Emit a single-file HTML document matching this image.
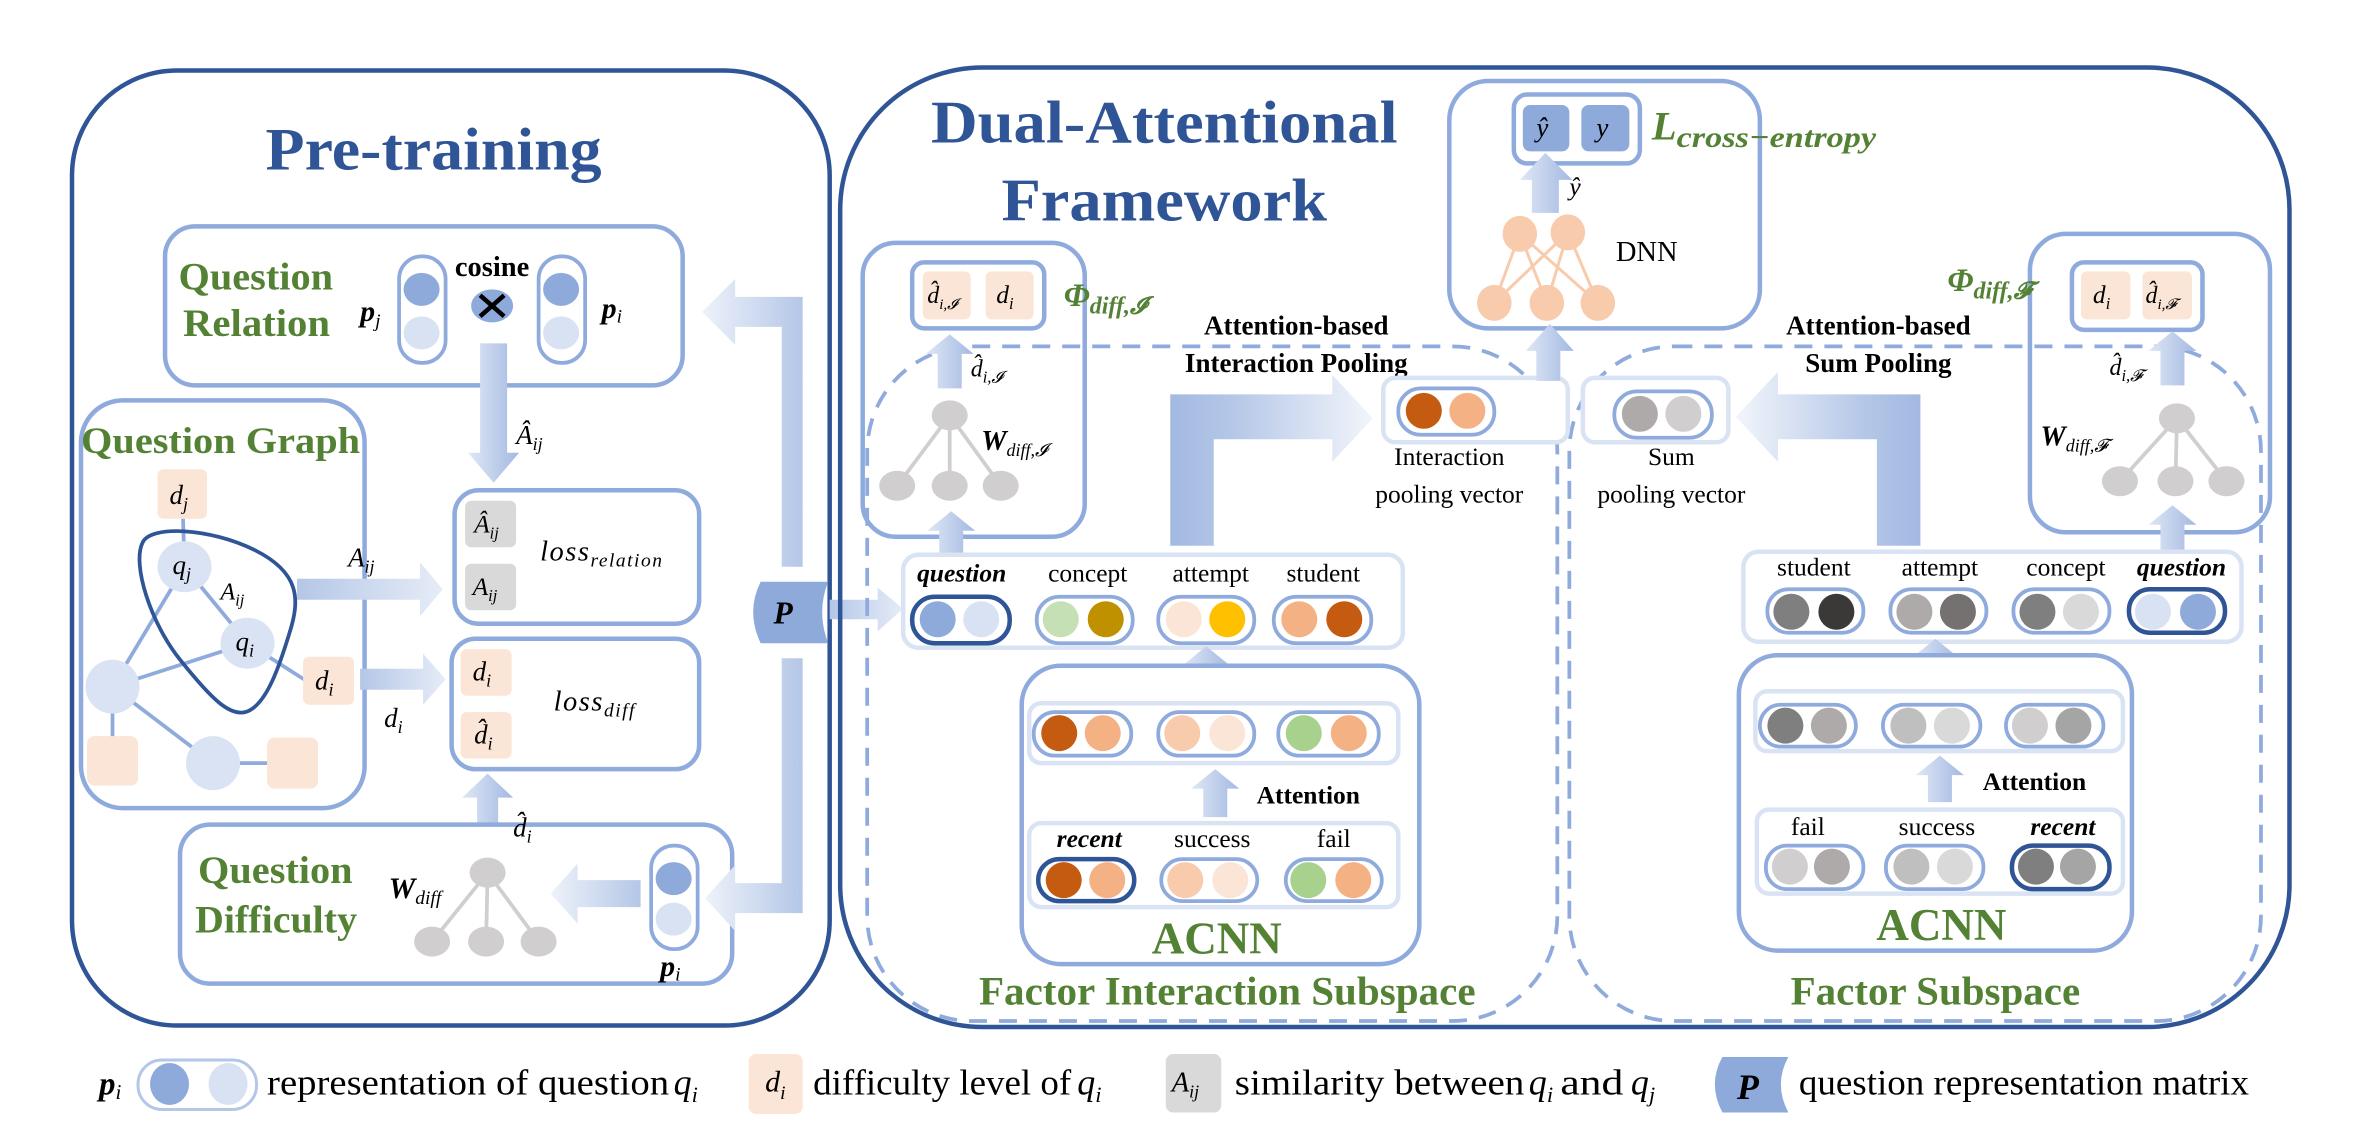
<!DOCTYPE html>
<html><head><meta charset="utf-8"><style>
html,body{margin:0;padding:0;background:#fff;}
svg{display:block;}
text{font-family:"Liberation Serif",serif;}
.t{font-weight:bold;fill:#2f5597;}
.g{font-weight:bold;fill:#548235;}
.b{font-weight:bold;fill:#000;}
.m{font-style:italic;fill:#000;}
.n{fill:#000;}
.pill{fill:#fff;stroke:#8faadc;stroke-width:2.5;}
.pd{fill:#fff;stroke:#2f5597;stroke-width:3;}
.row{fill:#fff;stroke:#dae3f3;stroke-width:3;}
.bx{fill:#fff;stroke:#8faadc;stroke-width:3;}
.ds{fill:none;stroke:#8faadc;stroke-width:2.5;stroke-dasharray:12 8;}
.ar{fill:url(#gv);}
.ah{fill:url(#gh);}
</style></head><body>
<svg width="2354" height="1132" viewBox="0 0 1569 755" preserveAspectRatio="none" xmlns="http://www.w3.org/2000/svg">
<defs>
<linearGradient id="gv" x1="0" y1="0" x2="1" y2="0"><stop offset="0" stop-color="#dfe7f5"/><stop offset="1" stop-color="#a3b9e2"/></linearGradient>
<linearGradient id="gh" x1="0" y1="0" x2="1" y2="0"><stop offset="0" stop-color="#b4c7e7"/><stop offset="1" stop-color="#e6ecf7"/></linearGradient>
<linearGradient id="gl" x1="0" y1="0" x2="1" y2="0"><stop offset="0" stop-color="#eef2fa"/><stop offset="1" stop-color="#b4c7e7"/></linearGradient>
<linearGradient id="gL1" x1="0" y1="0" x2="1" y2="0"><stop offset="0" stop-color="#a3b9e2"/><stop offset="0.3" stop-color="#b4c7e7"/><stop offset="1" stop-color="#f2f5fb"/></linearGradient>
<linearGradient id="gL2" x1="0" y1="0" x2="1" y2="0"><stop offset="0" stop-color="#f2f5fb"/><stop offset="0.7" stop-color="#b4c7e7"/><stop offset="1" stop-color="#a3b9e2"/></linearGradient>
</defs>

<!-- ============ PRE-TRAINING ============ -->
<rect x="48" y="47" width="505" height="637" rx="70" fill="#fff" stroke="#2f5597" stroke-width="3"/>
<text class="t" x="289" y="113" font-size="40" text-anchor="middle" textLength="224" lengthAdjust="spacingAndGlyphs">Pre-training</text>

<rect class="bx" x="110" y="151" width="345" height="106" rx="20"/>
<text class="g" x="119" y="193" font-size="26" textLength="103" lengthAdjust="spacingAndGlyphs">Question</text>
<text class="g" x="122" y="224" font-size="26" textLength="98" lengthAdjust="spacingAndGlyphs">Relation</text>
<text class="m" x="240" y="214" font-size="20" font-weight="bold">p<tspan font-size="13" dy="4" font-weight="normal">j</tspan></text>
<rect class="pill" x="266" y="171" width="31" height="71" rx="15"/>
<ellipse cx="281" cy="193" rx="12" ry="11" fill="#8eaadb"/>
<ellipse cx="281" cy="222" rx="12" ry="11" fill="#d9e2f3"/>
<text class="b" x="328" y="184" font-size="19" text-anchor="middle">cosine</text>
<ellipse cx="328" cy="204" rx="14" ry="11" fill="#8eaadb"/>
<path d="M320,197 L336,211 M336,197 L320,211" stroke="#000" stroke-width="3"/>
<rect class="pill" x="359" y="171" width="31" height="71" rx="15"/>
<ellipse cx="374" cy="193" rx="12" ry="11" fill="#8eaadb"/>
<ellipse cx="374" cy="222" rx="12" ry="11" fill="#d9e2f3"/>
<text class="m" x="401" y="212" font-size="20" font-weight="bold">p<tspan font-size="13" dy="3" font-weight="normal">i</tspan></text>

<polygon class="ar" points="320,229 338,229 338,302 346,302 329,322 312,302 320,302"/>
<text class="m" x="344" y="296" font-size="18">Â<tspan font-size="12" dy="4">ij</tspan></text>

<rect class="bx" x="54" y="267" width="189" height="272" rx="28"/>
<text class="g" x="54" y="302" font-size="25" textLength="186" lengthAdjust="spacingAndGlyphs">Question Graph</text>
<g stroke="#8faadc" stroke-width="2.5">
<line x1="122" y1="346" x2="123" y2="378"/>
<line x1="123" y1="378" x2="165" y2="429"/>
<line x1="123" y1="378" x2="75" y2="458"/>
<line x1="75" y1="458" x2="165" y2="429"/>
<line x1="75" y1="458" x2="142" y2="509"/>
<line x1="75" y1="458" x2="75" y2="500"/>
<line x1="142" y1="509" x2="185" y2="509"/>
<line x1="165" y1="429" x2="204" y2="454"/>
</g>
<rect x="105" y="313" width="33" height="33" rx="4" fill="#fbe5d6"/>
<text class="m" x="113" y="336" font-size="18">d<tspan font-size="12" dy="4">j</tspan></text>
<ellipse cx="123" cy="378" rx="18" ry="17" fill="#dae3f3"/>
<text class="m" x="115" y="383" font-size="18">q<tspan font-size="12" dy="4">j</tspan></text>
<ellipse cx="165" cy="429" rx="18" ry="17" fill="#dae3f3"/>
<text class="m" x="157" y="434" font-size="18">q<tspan font-size="12" dy="4">i</tspan></text>
<text class="m" x="147" y="400" font-size="16">A<tspan font-size="11" dy="4">ij</tspan></text>
<ellipse cx="75" cy="458" rx="18" ry="18" fill="#dae3f3"/>
<ellipse cx="142" cy="509" rx="18" ry="18" fill="#dae3f3"/>
<rect x="58" y="491" width="34" height="33" rx="5" fill="#fbe5d6"/>
<rect x="178" y="492" width="34" height="34" rx="5" fill="#fbe5d6"/>
<rect x="202" y="438" width="34" height="32" rx="4" fill="#fbe5d6"/>
<text class="m" x="210" y="460" font-size="18">d<tspan font-size="12" dy="4">i</tspan></text>
<path d="M95,362 C100,350 140,352 170,367 C200,382 200,400 193,422 C186,445 178,468 166,474 C154,480 140,465 120,440 C100,415 88,376 95,362 Z" fill="none" stroke="#2f5597" stroke-width="2.5"/>

<polygon class="ah" points="198,386 280,386 280,375 295,393 280,411 280,400 198,400"/>
<text class="m" x="232" y="378" font-size="18">A<tspan font-size="12" dy="4">ij</tspan></text>
<polygon class="ah" points="240,446 282,446 282,436 297,453 282,470 282,460 240,460"/>
<text class="m" x="256" y="485" font-size="18">d<tspan font-size="12" dy="4">i</tspan></text>

<rect class="bx" x="303" y="327" width="163" height="89" rx="16"/>
<rect x="310" y="334" width="34" height="31" rx="4" fill="#d9d9d9"/>
<rect x="310" y="376" width="34" height="31" rx="4" fill="#d9d9d9"/>
<text class="m" x="316" y="355" font-size="17">Â<tspan font-size="11" dy="4">ij</tspan></text>
<text class="m" x="315" y="397" font-size="17">A<tspan font-size="11" dy="4">ij</tspan></text>
<text class="m" x="360" y="374" font-size="19" letter-spacing="1">loss<tspan font-size="13" dy="4">relation</tspan></text>
<rect class="bx" x="301" y="426" width="165" height="87" rx="16"/>
<rect x="307" y="433" width="34" height="31" rx="4" fill="#fbe5d6"/>
<rect x="307" y="475" width="34" height="31" rx="4" fill="#fbe5d6"/>
<text class="m" x="315" y="454" font-size="18">d<tspan font-size="12" dy="4">i</tspan></text>
<text class="m" x="316" y="496" font-size="18">d̂<tspan font-size="12" dy="4">i</tspan></text>
<text class="m" x="369" y="474" font-size="19" letter-spacing="1">loss<tspan font-size="13" dy="4">diff</tspan></text>

<polygon class="ar" points="318,569 332,569 332,532 342,532 325,516 308,532 318,532"/>

<rect class="bx" x="120" y="550" width="368" height="106" rx="20"/>
<text class="m" x="342" y="558" font-size="18">d̂<tspan font-size="12" dy="4">i</tspan></text>
<text class="g" x="132" y="589" font-size="26" textLength="103" lengthAdjust="spacingAndGlyphs">Question</text>
<text class="g" x="130" y="622" font-size="26" textLength="108" lengthAdjust="spacingAndGlyphs">Difficulty</text>
<text class="m" x="259" y="599" font-size="20" font-weight="bold">W<tspan font-size="13" dy="4" font-weight="normal">diff</tspan></text>
<g stroke="#d0cece" stroke-width="2.5"><line x1="325" y1="582" x2="288" y2="628"/><line x1="325" y1="582" x2="324" y2="628"/><line x1="325" y1="582" x2="359" y2="628"/></g>
<g fill="#d0cece"><ellipse cx="325" cy="582" rx="12" ry="10"/><ellipse cx="288" cy="628" rx="12" ry="10"/><ellipse cx="324" cy="628" rx="12" ry="10"/><ellipse cx="359" cy="628" rx="12" ry="10"/></g>
<polygon fill="url(#gl)" points="427,587 385,587 385,576 367,596 385,616 385,605 427,605"/>
<rect class="pill" x="434" y="564" width="31" height="69" rx="15"/>
<ellipse cx="449" cy="586" rx="12" ry="11" fill="#8eaadb"/>
<ellipse cx="449" cy="613" rx="12" ry="11" fill="#d9e2f3"/>
<text class="m" x="440" y="651" font-size="20" font-weight="bold">p<tspan font-size="13" dy="3" font-weight="normal">i</tspan></text>

<polygon fill="url(#gl)" points="535,378 535,198 490,198 490,186 468,208 490,230 490,218 521,218 521,378"/>
<polygon fill="url(#gl)" points="521,439 535,439 535,609 490,609 490,621 470,599 490,577 490,589 521,589"/>
<polygon class="ah" points="553,400 585,400 585,392 602,406 585,421 585,413 553,413"/>
<path d="M507,388 L552,388 Q544,408 552,429 L507,429 Q497,408 507,388 Z" fill="#8eaadb"/>
<text x="522" y="416" font-size="21" font-weight="bold" font-style="italic" text-anchor="middle">P</text>

<!-- ============ DUAL-ATTENTIONAL ============ -->
<rect x="560" y="45" width="966" height="640" rx="95" fill="none" stroke="#2f5597" stroke-width="3"/>
<text class="t" x="776" y="95" font-size="40" text-anchor="middle" textLength="311" lengthAdjust="spacingAndGlyphs">Dual-Attentional</text>
<text class="t" x="776" y="147" font-size="40" text-anchor="middle" textLength="217" lengthAdjust="spacingAndGlyphs">Framework</text>

<rect class="ds" x="578" y="231" width="460" height="450" rx="70"/>
<rect class="ds" x="1046" y="231" width="461" height="450" rx="70"/>

<rect x="575" y="162" width="148" height="196" rx="22" fill="none" stroke="#8faadc" stroke-width="3"/>
<rect class="bx" x="608" y="175" width="88" height="44" rx="8"/>
<rect x="615" y="181" width="32" height="32" rx="4" fill="#fbe5d6"/>
<rect x="657" y="181" width="32" height="32" rx="4" fill="#fbe5d6"/>
<text class="m" x="618" y="202" font-size="16">d̂<tspan font-size="10" dy="4">i,𝓘</tspan></text>
<text class="m" x="664" y="202" font-size="17">d<tspan font-size="11" dy="4">i</tspan></text>
<text x="709" y="204" font-size="22" font-weight="bold" font-style="italic" fill="#548235">Φ<tspan font-size="16" dy="5">diff,𝓘</tspan></text>
<polygon class="ar" points="625,259 641,259 641,236 649,236 633,223 617,236 625,236"/>
<text class="m" x="647" y="251" font-size="16">d̂<tspan font-size="11" dy="4">i,𝓘</tspan></text>
<g stroke="#d0cece" stroke-width="2.5"><line x1="633" y1="277" x2="598" y2="324"/><line x1="633" y1="277" x2="633" y2="324"/><line x1="633" y1="277" x2="667" y2="324"/></g>
<g fill="#d0cece"><ellipse cx="633" cy="277" rx="12" ry="10"/><ellipse cx="598" cy="324" rx="12" ry="10"/><ellipse cx="633" cy="324" rx="12" ry="10"/><ellipse cx="667" cy="324" rx="12" ry="10"/></g>
<text class="m" x="654" y="300" font-size="19" font-weight="bold">W<tspan font-size="12" dy="4" font-weight="normal">diff,𝓘</tspan></text>
<polygon class="ar" points="626,375 642,375 642,354 650,354 634,341 618,354 626,354"/>

<text class="b" x="864" y="223" font-size="18" text-anchor="middle">Attention-based</text>
<text class="b" x="864" y="248" font-size="18" text-anchor="middle">Interaction Pooling</text>
<polygon fill="url(#gL1)" points="780,364 809,364 809,293 888,293 888,308 915,279 888,250 888,263 780,263"/>

<rect class="row" x="922" y="252" width="123" height="43" rx="8"/>
<rect class="row" x="1055" y="252" width="97" height="43" rx="8"/>
<rect class="pill" x="932" y="259" width="64" height="31" rx="15"/>
<ellipse cx="949" cy="274" rx="12" ry="12" fill="#c55a11"/>
<ellipse cx="978" cy="274" rx="12" ry="12" fill="#f4b183"/>
<text class="n" x="966" y="310" font-size="17" text-anchor="middle">Interaction</text>
<text class="n" x="966" y="335" font-size="17" text-anchor="middle">pooling vector</text>
<rect class="pill" x="1076" y="261" width="65" height="31" rx="15"/>
<ellipse cx="1093" cy="276" rx="12" ry="12" fill="#aeaaaa"/>
<ellipse cx="1122" cy="276" rx="12" ry="12" fill="#d0cece"/>
<text class="n" x="1114" y="310" font-size="17" text-anchor="middle">Sum</text>
<text class="n" x="1114" y="335" font-size="17" text-anchor="middle">pooling vector</text>

<!-- DNN -->
<rect x="966" y="54" width="207" height="165" rx="26" fill="#fff" stroke="#8faadc" stroke-width="3"/>
<rect class="bx" x="1009" y="63" width="84" height="46" rx="9"/>
<rect x="1015" y="70" width="31" height="31" rx="5" fill="#8eaadb"/>
<rect x="1054" y="70" width="32" height="31" rx="5" fill="#8eaadb"/>
<text class="m" x="1024" y="91" font-size="18">ŷ</text>
<text class="m" x="1064" y="91" font-size="18">y</text>
<polygon class="ar" points="1021,142 1039,142 1039,120 1048,120 1030,102 1013,120 1021,120"/>
<text class="m" x="1046" y="130" font-size="17">ŷ</text>
<g stroke="#f8cbad" stroke-width="2"><line x1="1013" y1="156" x2="996" y2="202"/><line x1="1013" y1="156" x2="1031" y2="202"/><line x1="1013" y1="156" x2="1065" y2="202"/><line x1="1045" y1="155" x2="996" y2="202"/><line x1="1045" y1="155" x2="1031" y2="202"/><line x1="1045" y1="155" x2="1065" y2="202"/></g>
<g fill="#f8cbad"><ellipse cx="1013" cy="156" rx="11.5" ry="12"/><ellipse cx="1045" cy="155" rx="11.5" ry="12"/><ellipse cx="996" cy="202" rx="11.5" ry="12"/><ellipse cx="1031" cy="202" rx="11.5" ry="12"/><ellipse cx="1065" cy="202" rx="11.5" ry="12"/></g>
<text class="n" x="1077" y="174" font-size="19">DNN</text>
<polygon class="ar" points="1024,254 1040,254 1040,234 1049,234 1033,216 1017,234 1024,234"/>
<text x="1101" y="93" font-size="27" font-weight="bold" font-style="italic" fill="#548235">L<tspan font-size="20" dy="5" textLength="133" lengthAdjust="spacingAndGlyphs">cross−entropy</tspan></text>

<rect class="row" x="602" y="370" width="333" height="62" rx="10"/>
<text class="m" x="641" y="388" font-size="17" font-weight="bold" text-anchor="middle">question</text>
<text class="n" x="725" y="388" font-size="17" text-anchor="middle">concept</text>
<text class="n" x="807" y="388" font-size="17" text-anchor="middle">attempt</text>
<text class="n" x="882" y="388" font-size="17" text-anchor="middle">student</text>
<rect class="pd" x="608" y="398" width="65" height="31" rx="15"/>
<rect class="pill" x="691" y="398" width="64" height="31" rx="15"/>
<rect class="pill" x="772" y="398" width="64" height="31" rx="15"/>
<rect class="pill" x="849" y="398" width="65" height="31" rx="15"/>
<ellipse cx="625" cy="413" rx="12" ry="12" fill="#8eaadb"/><ellipse cx="654" cy="413" rx="12" ry="12" fill="#d9e2f3"/>
<ellipse cx="707" cy="413" rx="12" ry="12" fill="#c5e0b4"/><ellipse cx="737" cy="413" rx="12" ry="12" fill="#bf9000"/>
<ellipse cx="789" cy="413" rx="12" ry="12" fill="#fbe5d6"/><ellipse cx="818" cy="413" rx="12" ry="12" fill="#ffc000"/>
<ellipse cx="866" cy="413" rx="12" ry="12" fill="#f4b183"/><ellipse cx="896" cy="413" rx="12" ry="12" fill="#c55a11"/>

<polygon class="ar" points="796,460 812,460 812,444 820,444 804,431 788,444 796,444"/>
<text class="b" x="848" y="462" font-size="17" text-anchor="middle">CNN</text>

<rect class="bx" x="681" y="444" width="265" height="199" rx="26"/>
<rect class="row" x="686" y="469" width="246" height="40" rx="8"/>
<rect class="pill" x="689" y="475" width="65" height="29" rx="14"/>
<rect class="pill" x="772" y="475" width="64" height="29" rx="14"/>
<rect class="pill" x="852" y="475" width="67" height="29" rx="14"/>
<ellipse cx="706" cy="489" rx="12" ry="12" fill="#c55a11"/><ellipse cx="735" cy="489" rx="12" ry="12" fill="#f4b183"/>
<ellipse cx="788" cy="489" rx="12" ry="12" fill="#f8cbad"/><ellipse cx="818" cy="489" rx="12" ry="12" fill="#fbe5d6"/>
<ellipse cx="869" cy="489" rx="12" ry="12" fill="#a9d18e"/><ellipse cx="899" cy="489" rx="12" ry="12" fill="#f4b183"/>
<polygon class="ar" points="802,545 818,545 818,526 826,526 810,513 794,526 802,526"/>
<text class="b" x="872" y="536" font-size="17" text-anchor="middle">Attention</text>
<rect class="row" x="686" y="549" width="246" height="56" rx="8"/>
<text class="m" x="726" y="565" font-size="17" font-weight="bold" text-anchor="middle">recent</text>
<text class="n" x="808" y="565" font-size="17" text-anchor="middle">success</text>
<text class="n" x="889" y="565" font-size="17" text-anchor="middle">fail</text>
<rect class="pd" x="692" y="573" width="64" height="28" rx="14"/>
<rect class="pill" x="774" y="573" width="64" height="28" rx="14"/>
<rect class="pill" x="857" y="573" width="64" height="28" rx="14"/>
<ellipse cx="709" cy="587" rx="12" ry="12" fill="#c55a11"/><ellipse cx="738" cy="587" rx="12" ry="12" fill="#f4b183"/>
<ellipse cx="790" cy="587" rx="12" ry="12" fill="#f8cbad"/><ellipse cx="820" cy="587" rx="12" ry="12" fill="#fbe5d6"/>
<ellipse cx="872" cy="587" rx="12" ry="12" fill="#a9d18e"/><ellipse cx="902" cy="587" rx="12" ry="12" fill="#f4b183"/>
<text class="g" x="811" y="636" font-size="30" text-anchor="middle">ACNN</text>
<text class="g" x="818" y="670" font-size="27" text-anchor="middle" textLength="331" lengthAdjust="spacingAndGlyphs">Factor Interaction Subspace</text>

<text class="b" x="1252" y="223" font-size="18" text-anchor="middle">Attention-based</text>
<text class="b" x="1252" y="248" font-size="18" text-anchor="middle">Sum Pooling</text>
<polygon fill="url(#gL2)" points="1280,364 1251,364 1251,293 1185,293 1185,308 1157,278 1185,248 1185,263 1280,263"/>

<rect x="1353" y="156" width="160" height="199" rx="24" fill="none" stroke="#8faadc" stroke-width="3"/>
<rect class="bx" x="1381" y="175" width="87" height="45" rx="8"/>
<rect x="1387" y="181" width="33" height="32" rx="4" fill="#fbe5d6"/>
<rect x="1428" y="181" width="33" height="32" rx="4" fill="#fbe5d6"/>
<text class="m" x="1395" y="202" font-size="17">d<tspan font-size="11" dy="4">i</tspan></text>
<text class="m" x="1430" y="202" font-size="16">d̂<tspan font-size="10" dy="4">i,𝓕</tspan></text>
<text x="1298" y="194" font-size="22" font-weight="bold" font-style="italic" fill="#548235">Φ<tspan font-size="16" dy="5">diff,𝓕</tspan></text>
<polygon class="ar" points="1440,257 1456,257 1456,234 1464,234 1448,221 1432,234 1440,234"/>
<text class="m" x="1406" y="250" font-size="16">d̂<tspan font-size="11" dy="4">i,𝓕</tspan></text>
<g stroke="#d0cece" stroke-width="2.5"><line x1="1451" y1="279" x2="1413" y2="321"/><line x1="1451" y1="279" x2="1450" y2="321"/><line x1="1451" y1="279" x2="1484" y2="321"/></g>
<g fill="#d0cece"><ellipse cx="1451" cy="279" rx="12" ry="10"/><ellipse cx="1413" cy="321" rx="12" ry="10"/><ellipse cx="1450" cy="321" rx="12" ry="10"/><ellipse cx="1484" cy="321" rx="12" ry="10"/></g>
<text class="m" x="1360" y="297" font-size="19" font-weight="bold">W<tspan font-size="12" dy="4" font-weight="normal">diff,𝓕</tspan></text>
<polygon class="ar" points="1440,371 1456,371 1456,350 1464,350 1448,337 1432,350 1440,350"/>

<rect class="row" x="1162" y="368" width="332" height="60" rx="10"/>
<text class="n" x="1209" y="384" font-size="17" text-anchor="middle">student</text>
<text class="n" x="1293" y="384" font-size="17" text-anchor="middle">attempt</text>
<text class="n" x="1377" y="384" font-size="17" text-anchor="middle">concept</text>
<text class="m" x="1454" y="384" font-size="17" font-weight="bold" text-anchor="middle">question</text>
<rect class="pill" x="1178" y="393" width="64" height="29" rx="14"/>
<rect class="pill" x="1260" y="393" width="64" height="29" rx="14"/>
<rect class="pill" x="1342" y="393" width="64" height="29" rx="14"/>
<rect class="pd" x="1419" y="393" width="64" height="29" rx="14"/>
<ellipse cx="1194" cy="408" rx="12" ry="12" fill="#7f7f7f"/><ellipse cx="1224" cy="408" rx="12" ry="12" fill="#3b3838"/>
<ellipse cx="1276" cy="408" rx="12" ry="12" fill="#aeaaaa"/><ellipse cx="1305" cy="408" rx="12" ry="12" fill="#767171"/>
<ellipse cx="1358" cy="408" rx="12" ry="12" fill="#7f7f7f"/><ellipse cx="1387" cy="408" rx="12" ry="12" fill="#d9d9d9"/>
<ellipse cx="1435" cy="408" rx="12" ry="12" fill="#d9e2f3"/><ellipse cx="1465" cy="408" rx="12" ry="12" fill="#8eaadb"/>

<polygon class="ar" points="1282,455 1298,455 1298,439 1306,439 1290,426 1274,439 1282,439"/>
<text class="b" x="1331" y="454" font-size="17" text-anchor="middle">CNN</text>

<rect class="bx" x="1159" y="437" width="262" height="197" rx="26"/>
<rect class="row" x="1170" y="461" width="245" height="40" rx="8"/>
<rect class="pill" x="1173" y="470" width="64" height="28" rx="14"/>
<rect class="pill" x="1255" y="470" width="65" height="28" rx="14"/>
<rect class="pill" x="1337" y="470" width="65" height="28" rx="14"/>
<ellipse cx="1190" cy="484" rx="12" ry="12" fill="#7f7f7f"/><ellipse cx="1219" cy="484" rx="12" ry="12" fill="#aeaaaa"/>
<ellipse cx="1272" cy="484" rx="12" ry="12" fill="#bfbfbf"/><ellipse cx="1301" cy="484" rx="12" ry="12" fill="#d9d9d9"/>
<ellipse cx="1353" cy="484" rx="12" ry="12" fill="#d0cece"/><ellipse cx="1382" cy="484" rx="12" ry="12" fill="#a5a5a5"/>
<polygon class="ar" points="1285,535 1301,535 1301,517 1309,517 1293,504 1277,517 1285,517"/>
<text class="b" x="1356" y="527" font-size="17" text-anchor="middle">Attention</text>
<rect class="row" x="1171" y="540" width="244" height="56" rx="8"/>
<text class="n" x="1205" y="557" font-size="17" text-anchor="middle">fail</text>
<text class="n" x="1291" y="557" font-size="17" text-anchor="middle">success</text>
<text class="m" x="1375" y="557" font-size="17" font-weight="bold" text-anchor="middle">recent</text>
<rect class="pill" x="1177" y="564" width="65" height="29" rx="14"/>
<rect class="pill" x="1257" y="564" width="65" height="29" rx="14"/>
<rect class="pd" x="1341" y="564" width="65" height="29" rx="14"/>
<ellipse cx="1193" cy="578" rx="12" ry="12" fill="#d0cece"/><ellipse cx="1221" cy="578" rx="12" ry="12" fill="#aeaaaa"/>
<ellipse cx="1274" cy="578" rx="12" ry="12" fill="#bfbfbf"/><ellipse cx="1303" cy="578" rx="12" ry="12" fill="#d9d9d9"/>
<ellipse cx="1357" cy="578" rx="12" ry="12" fill="#7f7f7f"/><ellipse cx="1385" cy="578" rx="12" ry="12" fill="#a5a5a5"/>
<text class="g" x="1294" y="627" font-size="30" text-anchor="middle">ACNN</text>
<text class="g" x="1290" y="670" font-size="27" text-anchor="middle" textLength="193" lengthAdjust="spacingAndGlyphs">Factor Subspace</text>

<!-- ============ LEGEND ============ -->
<text class="m" x="66" y="730" font-size="22" font-weight="bold">p<tspan font-size="14" dy="3" font-weight="normal">i</tspan></text>
<rect x="92" y="707" width="79" height="33" rx="16" fill="#fff" stroke="#b4c7e7" stroke-width="2"/>
<ellipse cx="113" cy="723" rx="13" ry="14" fill="#8eaadb"/>
<ellipse cx="152" cy="723" rx="13" ry="14" fill="#d9e2f3"/>
<text class="n" x="178" y="730" font-size="24" textLength="268" lengthAdjust="spacingAndGlyphs">representation of question</text>
<text class="m" x="449" y="730" font-size="24">q<tspan font-size="15" dy="5">i</tspan></text>
<rect x="499" y="703" width="36" height="40" rx="5" fill="#fbe5d6"/>
<text class="m" x="510" y="728" font-size="20">d<tspan font-size="13" dy="5">i</tspan></text>
<text class="n" x="542" y="730" font-size="24" textLength="172" lengthAdjust="spacingAndGlyphs">difficulty level of</text>
<text class="m" x="718" y="730" font-size="24">q<tspan font-size="15" dy="5">i</tspan></text>
<rect x="777" y="703" width="37" height="39" rx="5" fill="#d9d9d9"/>
<text class="m" x="781" y="728" font-size="19">A<tspan font-size="12" dy="4">ij</tspan></text>
<text class="n" x="823" y="730" font-size="24" textLength="193" lengthAdjust="spacingAndGlyphs">similarity between</text>
<text class="m" x="1019" y="730" font-size="24">q<tspan font-size="15" dy="5">i</tspan></text>
<text class="n" x="1040" y="730" font-size="24" textLength="42" lengthAdjust="spacingAndGlyphs">and</text>
<text class="m" x="1087" y="730" font-size="24">q<tspan font-size="15" dy="5">j</tspan></text>
<path d="M1148,705 L1192,705 Q1182,723 1192,742 L1148,742 Q1138,723 1148,705 Z" fill="#8eaadb"/>
<text x="1165" y="733" font-size="24" font-weight="bold" font-style="italic" text-anchor="middle">P</text>
<text class="n" x="1199" y="730" font-size="24" textLength="300" lengthAdjust="spacingAndGlyphs">question representation matrix</text>
</svg>
</body></html>
